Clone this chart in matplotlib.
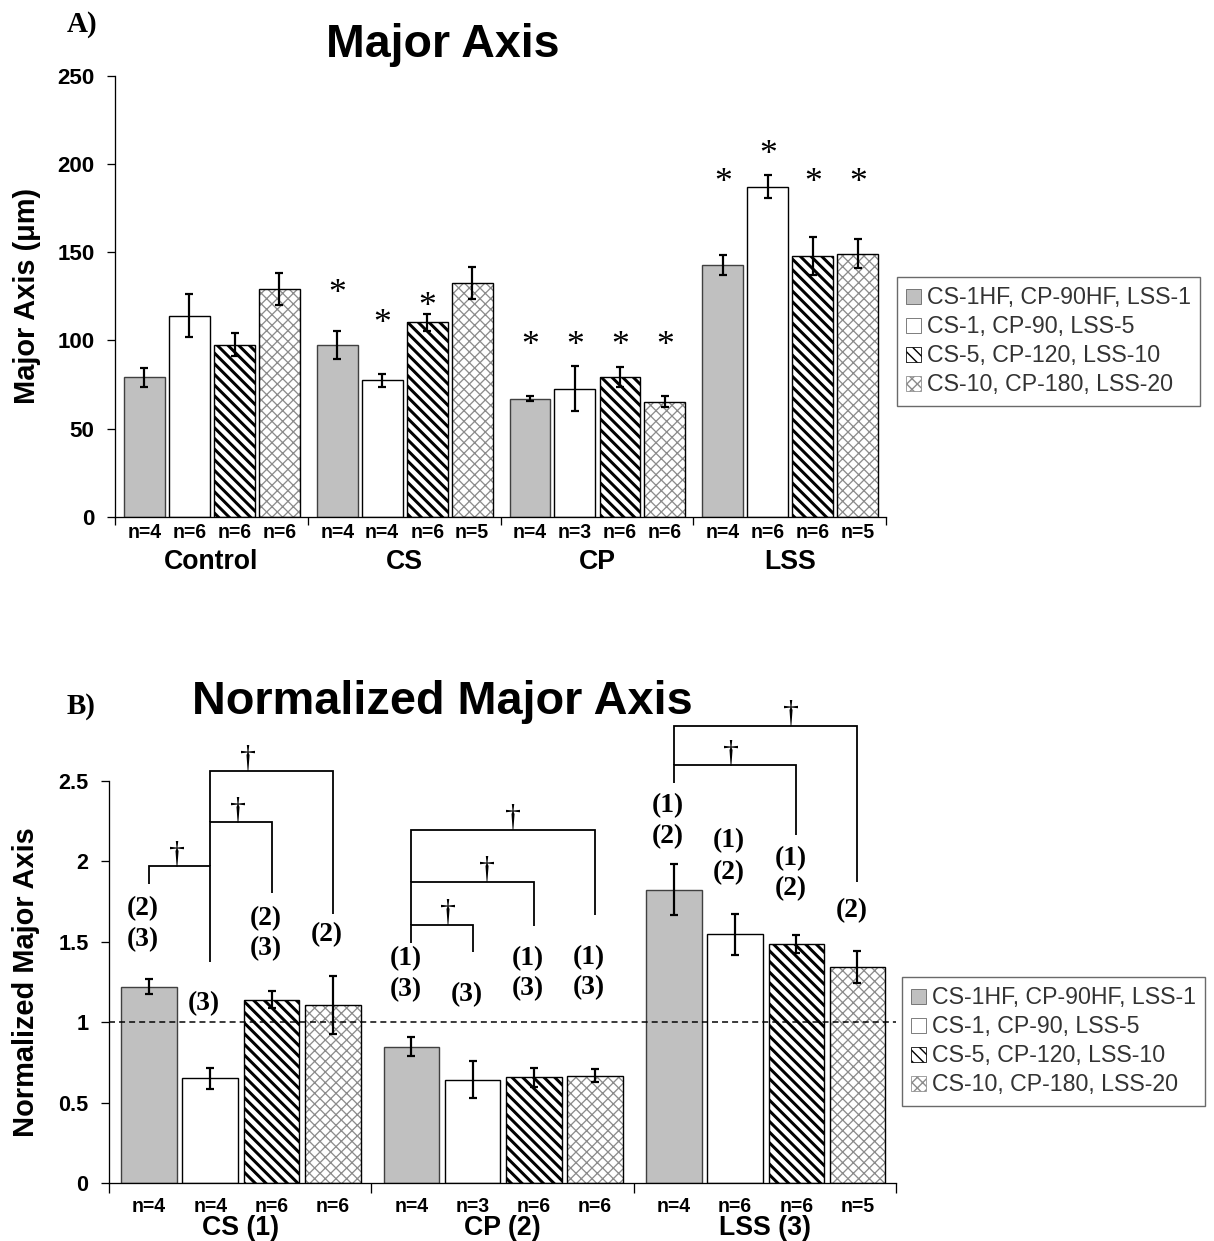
import numpy as np
import matplotlib
matplotlib.use("Agg")
import matplotlib.pyplot as plt
import matplotlib.transforms as mtransforms
from matplotlib.patches import Patch

# ------------------------------------------------------------------ data
series_labels = ["CS-1HF, CP-90HF, LSS-1", "CS-1, CP-90, LSS-5",
                 "CS-5, CP-120, LSS-10", "CS-10, CP-180, LSS-20"]

groups_a = ["Control", "CS", "CP", "LSS"]
major_mean = [[79.0, 114.0, 97.6, 129.3],
              [97.6, 77.4, 110.3, 132.5],
              [67.0, 72.6, 79.3, 65.3],
              [142.9, 187.0, 147.9, 149.2]]
major_err = [[5.5, 12.2, 6.4, 9.1],
             [8.0, 3.6, 4.9, 9.3],
             [1.3, 12.7, 5.5, 3.2],
             [5.6, 6.6, 10.9, 8.4]]
major_n = [[4, 6, 6, 6], [4, 4, 6, 5], [4, 3, 6, 6], [4, 6, 6, 5]]
# '*' = different from control
major_star = [[False, False, False, False],
              [True, True, True, False],
              [True, True, True, True],
              [True, True, True, True]]

groups_b = ["CS (1)", "CP (2)", "LSS (3)"]
norm_mean = [[1.221, 0.651, 1.139, 1.107],
             [0.849, 0.644, 0.657, 0.668],
             [1.823, 1.546, 1.484, 1.341]]
norm_err = [[0.046, 0.065, 0.053, 0.180],
            [0.061, 0.116, 0.060, 0.040],
            [0.160, 0.128, 0.056, 0.100]]
norm_n = [[4, 4, 6, 6], [4, 3, 6, 6], [4, 6, 6, 5]]
norm_reference = 1.0
# protocols (1)-(3) that each bar differs from
norm_diff = [[["(2)", "(3)"], ["(3)"], ["(2)", "(3)"], ["(2)"]],
             [["(1)", "(3)"], ["(3)"], ["(1)", "(3)"], ["(1)", "(3)"]],
             [["(1)", "(2)"], ["(1)", "(2)"], ["(1)", "(2)"], ["(2)"]]]
# within-group comparisons marked with a dagger: (group, bar, bar)
dagger_pairs = [(0, 0, 1), (0, 1, 2), (0, 1, 3),
                (1, 0, 1), (1, 0, 2), (1, 0, 3),
                (2, 0, 2), (2, 0, 3)]

# ------------------------------------------------------------------ layout
W, H = 1214, 1241
DPI = 128
PT = 72.0 / DPI                     # points per pixel
SANS = ["Liberation Sans", "DejaVu Sans"]
SERIF = ["Liberation Serif", "DejaVu Serif"]
plt.rcParams["font.family"] = SANS
plt.rcParams["hatch.linewidth"] = 3.0 * PT

offsets = [0.153, 0.386, 0.620, 0.853]   # bar centres inside a group
bar_w = 0.212

styles = [
    dict(fc="#c0c0c0", hatch=None, hc=None, hlw=None),
    dict(fc="white", hatch=None, hc=None, hlw=None),
    dict(fc="white", hatch="\\\\\\\\", hc="black", hlw=3.0 * PT),
    dict(fc="white", hatch="xxxx", hc="#8c8c8c", hlw=1.3 * PT),
]

# star heights (panel A) and label / bracket heights (panel B)
star_y = [[None] * 4,
          [132.5, 115.0, 125.0, None],
          [102.8, 102.8, 102.8, 102.8],
          [195.0, 211.0, 195.0, 195.0]]
diff_y = [[[1.705, 1.515], [1.114], [1.642, 1.455], [1.542]],
          [[1.393, 1.203], [1.170], [1.397, 1.210], [1.404, 1.214]],
          [[2.346, 2.155], [2.128, 1.927], [2.016, 1.827], [1.693]]]
# (bar line, left end, right end, dagger x within group)
bracket_geom = [(1.970, 1.858, 1.375, 0.26), (2.241, 1.970, 1.800, 0.49),
                (2.562, 2.241, 1.672, 0.53),
                (1.604, 1.493, 1.437, 0.294), (1.872, 1.604, 1.598, 0.44),
                (2.195, 1.872, 1.667, 0.54),
                (2.596, 2.484, 2.164, 0.37), (2.841, 2.596, 1.872, 0.60)]


def fx(px):
    return px / W


def fy(py):
    return 1.0 - py / H


fig = plt.figure(figsize=(W / DPI, H / DPI), dpi=DPI)
fig.patch.set_facecolor("white")

# axes boxes in pixels: left, right, y of zero, y of top tick
box_a = (115, 886, 517.0, 75.5)
box_b = (109, 896, 1183.2, 780.7)


def make_axes(box):
    l, r, y0, y1 = box
    return fig.add_axes([fx(l), fy(y0), (r - l) / W, (y0 - y1) / H])


ax_a = make_axes(box_a)
ax_b = make_axes(box_b)


def draw_bars(ax, means, errs):
    means = np.asarray(means)
    errs = np.asarray(errs)
    ng = means.shape[0]
    base = np.arange(ng)
    for k, st in enumerate(styles):
        x = base + offsets[k]
        if st["hatch"]:
            hb = ax.bar(x, means[:, k], bar_w, facecolor=st["fc"],
                        edgecolor=st["hc"], linewidth=0, hatch=st["hatch"],
                        zorder=2)
            for p in hb:
                if hasattr(p, "set_hatch_linewidth"):
                    p.set_hatch_linewidth(st["hlw"])
            ax.bar(x, means[:, k], bar_w, fill=False, edgecolor="black",
                   linewidth=1.4 * PT, zorder=2.5)
        else:
            ax.bar(x, means[:, k], bar_w, facecolor=st["fc"],
                   edgecolor="black" if st["fc"] == "white" else "#404040",
                   linewidth=1.4 * PT, zorder=2)
        ax.errorbar(x, means[:, k], yerr=errs[:, k], fmt="none",
                    ecolor="black", elinewidth=2.2 * PT, capsize=4.0 * PT,
                    capthick=2.2 * PT, zorder=5)


def style_axes(ax, ng, ymax, yticks, yticklabels, xtick_len, ticksize):
    ax.set_xlim(0, ng)
    ax.set_ylim(0, ymax)
    for s in ("top", "right"):
        ax.spines[s].set_visible(False)
    for s in ("left", "bottom"):
        ax.spines[s].set_linewidth(1.3 * PT)
    ax.set_xticks(np.arange(ng + 1))
    ax.set_xticklabels([])
    ax.tick_params(axis="x", length=xtick_len * PT, width=1.3 * PT,
                   direction="out")
    ax.set_yticks(yticks)
    ax.set_yticklabels(yticklabels, fontweight="bold", fontsize=ticksize)
    ax.tick_params(axis="y", length=8 * PT, width=1.3 * PT, direction="out",
                   pad=12.5 * PT)
    ax.set_facecolor("none")


def axes_y(box, py):
    _, _, y0, y1 = box
    return (y0 - py) / (y0 - y1)


def group_texts(ax, box, groups, ns, n_py, g_py, n_size, g_size):
    tr = mtransforms.blended_transform_factory(ax.transData, ax.transAxes)
    for g, name in enumerate(groups):
        for k in range(4):
            ax.text(g + offsets[k], axes_y(box, n_py), f"n={ns[g][k]}",
                    transform=tr, ha="center", va="baseline",
                    fontsize=n_size, fontweight="bold", clip_on=False)
        ax.text(g + 0.5, axes_y(box, g_py), name, transform=tr,
                ha="center", va="baseline", fontsize=g_size,
                fontweight="bold", clip_on=False)


def legend(ax, left_px, top_px):
    handles = []
    for st in styles:
        h = Patch(facecolor=st["fc"],
                  edgecolor=st["hc"] if st["hc"] else "#606060",
                  hatch=st["hatch"], linewidth=0.8 * PT)
        handles.append(h)
    leg = ax.legend(handles, series_labels, loc="upper left",
                    bbox_to_anchor=(fx(left_px), fy(top_px)),
                    bbox_transform=fig.transFigure, fontsize=13.0,
                    labelcolor="#333333", frameon=True, fancybox=False,
                    edgecolor="#6a6a6a", framealpha=1.0, borderpad=0.40,
                    labelspacing=0.26, handlelength=0.62, handleheight=0.62,
                    handletextpad=0.26, borderaxespad=0.0)
    leg.get_frame().set_linewidth(1.4 * PT)
    for p in leg.get_patches():
        if p.get_hatch() and hasattr(p, "set_hatch_linewidth"):
            p.set_hatch_linewidth(1.4 * PT)
    return leg


# ------------------------------------------------------------------ panel A
draw_bars(ax_a, major_mean, major_err)
style_axes(ax_a, 4, 250, [0, 50, 100, 150, 200, 250],
           ["0", "50", "100", "150", "200", "250"], 8, 12.6)
ax_a.set_ylabel("Major Axis (\u03bcm)", fontsize=16.3, fontweight="bold")
ax_a.yaxis.set_label_coords((27 - 115) / (886 - 115), 0.5)
ax_a.yaxis.label.set_verticalalignment("center")

for g in range(4):
    for k in range(4):
        if major_star[g][k]:
            ax_a.annotate("*", (g + offsets[k], star_y[g][k]),
                          xytext=(0, -11 * PT), textcoords="offset points",
                          ha="center", va="center", fontsize=20,
                          family=SERIF, annotation_clip=False)

group_texts(ax_a, box_a, groups_a, major_n, 538, 569, 11.0, 15.0)
legend(ax_a, 897, 277)

fig.text(fx(443), fy(57), "Major Axis", ha="center", va="baseline",
         fontsize=26.2, fontweight="bold")
fig.text(fx(67), fy(32), "A)", ha="left", va="baseline", fontsize=16.3,
         fontweight="bold", family=SERIF)

# ------------------------------------------------------------------ panel B
draw_bars(ax_b, norm_mean, norm_err)
style_axes(ax_b, 3, 2.5, [0, 0.5, 1, 1.5, 2, 2.5],
           ["0", "0.5", "1", "1.5", "2", "2.5"], 10, 12.2)
ax_b.axhline(norm_reference, color="black", linewidth=1.5 * PT,
             linestyle=(0, (4, 2.7)), zorder=4)
ax_b.set_ylabel("Normalized Major Axis", fontsize=16.3, fontweight="bold")
ax_b.yaxis.set_label_coords((26 - 109) / (896 - 109), 0.5)
ax_b.yaxis.label.set_verticalalignment("center")

for g in range(3):
    for k in range(4):
        for txt, yv in zip(norm_diff[g][k], diff_y[g][k]):
            ax_b.annotate(txt, (g + offsets[k], yv),
                          xytext=(-6 * PT, 0), textcoords="offset points",
                          ha="center", va="center", fontsize=15.5,
                          fontweight="bold", family=SERIF,
                          annotation_clip=False)

for (g, a, b), (yb, ya, yc, dx) in zip(dagger_pairs, bracket_geom):
    xa, xb = g + offsets[a], g + offsets[b]
    ax_b.plot([xa, xa, xb, xb], [ya, yb, yb, yc], color="black",
              linewidth=1.8 * PT, clip_on=False, zorder=6,
              solid_joinstyle="miter", solid_capstyle="butt")
    ax_b.annotate("\u2020", (g + dx, yb), xytext=(0, 3.5 * PT),
                  textcoords="offset points", ha="center", va="baseline",
                  fontsize=18, family=SERIF, annotation_clip=False)

group_texts(ax_b, box_b, groups_b, norm_n, 1212, 1235, 11.0, 15.0)
legend(ax_b, 902, 977)

fig.text(fx(442), fy(714), "Normalized Major Axis", ha="center",
         va="baseline", fontsize=26.4, fontweight="bold")
fig.text(fx(67), fy(714), "B)", ha="left", va="baseline", fontsize=16.3,
         fontweight="bold", family=SERIF)

fig.savefig("out.png", dpi=DPI, facecolor="white")
